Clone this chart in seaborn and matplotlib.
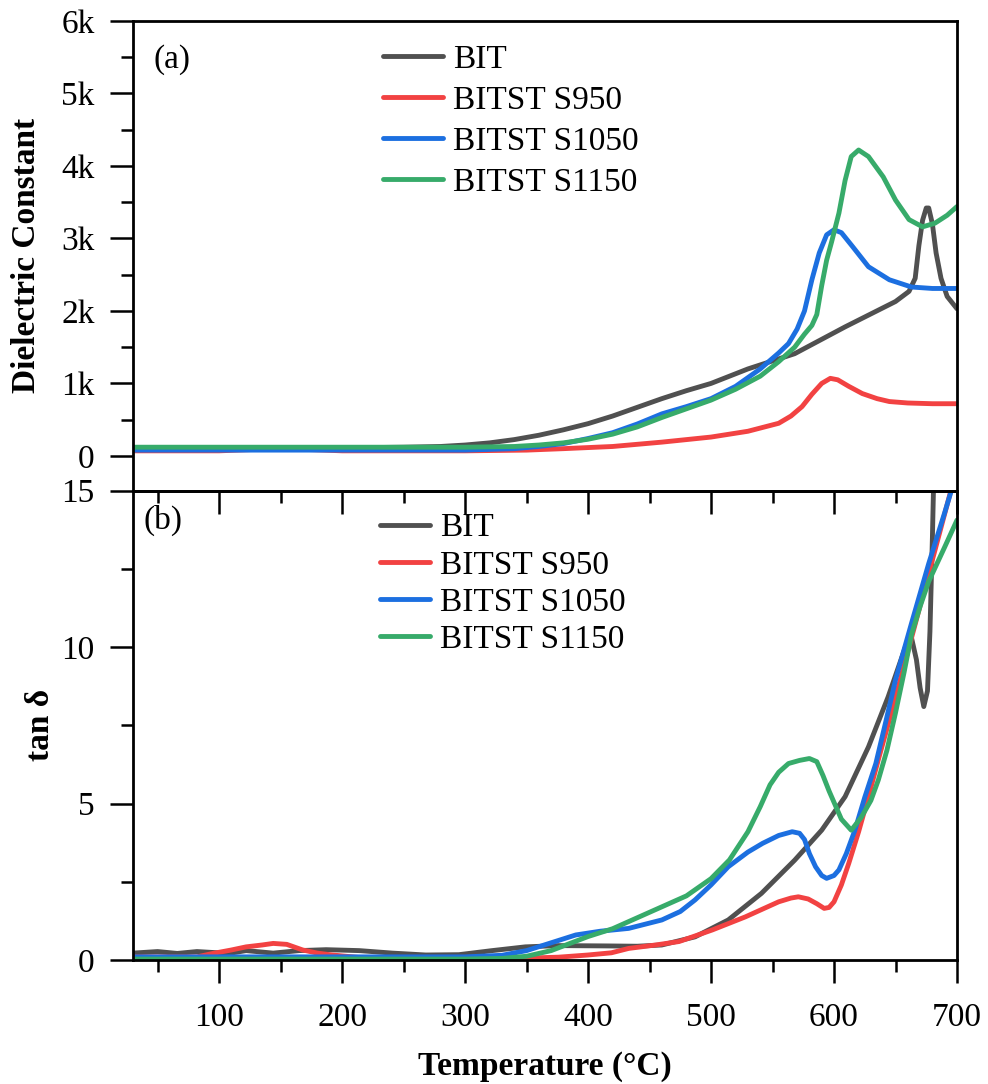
import numpy as np
import pandas as pd
import matplotlib
matplotlib.use("Agg")
import matplotlib.pyplot as plt
import seaborn as sns
from matplotlib.ticker import MultipleLocator, FuncFormatter

# ---------------- data ----------------
labels = ["BIT", "BITST S950", "BITST S1050", "BITST S1150"]
colors = ["#505050", "#f24242", "#1c6fe0", "#37ab6a"]

# (a) dielectric constant
bit_T_eps = [30, 60, 100, 150, 200, 250, 280, 300, 320, 340, 360, 380, 400, 420, 440, 460, 480, 500,
             530, 568, 609, 650, 661, 666, 669, 672, 675, 677, 680, 683, 687, 692, 700]
bit_eps = [110, 110, 110, 110, 110, 120, 130, 150, 180, 225, 285, 360, 445, 550, 670, 790, 900, 1000,
           1200, 1410, 1780, 2130, 2270, 2450, 2900, 3250, 3420, 3420, 3200, 2800, 2450, 2200, 2030]

s950_T_eps = [30, 100, 130, 150, 170, 200, 250, 300, 350, 380, 420, 460, 500, 530, 555, 565, 574, 582,
              590, 597, 603, 612, 623, 635, 645, 660, 680, 700]
s950_eps = [70, 70, 90, 110, 90, 70, 70, 70, 80, 100, 130, 190, 260, 340, 450, 550, 680, 850,
            1000, 1070, 1050, 960, 860, 790, 750, 730, 720, 720]

s1050_T_eps = [30, 100, 200, 300, 340, 360, 380, 400, 420, 440, 460, 480, 500, 520, 540, 555, 563, 570,
               576, 582, 588, 594, 600, 606, 615, 628, 645, 663, 680, 700]
s1050_eps = [80, 80, 80, 80, 100, 130, 170, 240, 320, 440, 580, 680, 790, 960, 1200, 1420, 1550, 1750,
             2000, 2430, 2800, 3050, 3120, 3080, 2890, 2610, 2430, 2330, 2310, 2310]

s1150_T_eps = [30, 100, 200, 300, 340, 360, 380, 400, 420, 440, 460, 480, 500, 520, 540, 555, 568, 576,
               582, 586, 590, 594, 598, 604, 609, 614, 620, 628, 640, 650, 661, 672, 682, 692, 700]
s1150_eps = [120, 120, 120, 120, 130, 150, 180, 230, 300, 400, 530, 650, 770, 920, 1100, 1300, 1500, 1680,
             1800, 1950, 2350, 2700, 2950, 3350, 3800, 4130, 4220, 4130, 3850, 3530, 3260, 3160, 3210, 3320, 3440]

# (b) tan delta
bit_T_tan = [30, 50, 66, 82, 108, 122, 144, 165, 187, 214, 241, 268, 295, 322, 349, 376, 415, 440, 460,
             487, 514, 541, 568, 590, 609, 628, 644, 658, 663, 667, 670, 673, 676, 678, 680, 682, 684]
bit_tan = [0.22, 0.27, 0.21, 0.27, 0.21, 0.30, 0.22, 0.30, 0.33, 0.30, 0.22, 0.16, 0.17, 0.30, 0.42, 0.46,
           0.45, 0.44, 0.48, 0.74, 1.28, 2.13, 3.19, 4.15, 5.22, 6.81, 8.41, 10.0, 10.3, 9.6, 8.7, 8.1,
           8.6, 10.5, 13.5, 17.0, 20.0]

s950_T_tan = [30, 82, 95, 110, 122, 135, 144, 155, 168, 180, 192, 214, 250, 300, 340, 376, 400, 419, 433,
              455, 474, 501, 528, 555, 565, 571, 579, 586, 592, 596, 600, 606, 612, 620, 628, 636, 645,
              661, 677, 695, 700]
s950_tan = [0.10, 0.10, 0.21, 0.32, 0.42, 0.48, 0.53, 0.50, 0.32, 0.22, 0.16, 0.08, 0.05, 0.05, 0.05, 0.09,
            0.16, 0.23, 0.37, 0.48, 0.59, 0.96, 1.38, 1.86, 1.98, 2.02, 1.95, 1.80, 1.65, 1.68, 1.86, 2.4,
            3.09, 4.1, 5.22, 6.4, 7.67, 10.0, 12.35, 15.0, 15.8]

s1050_T_tan = [30, 100, 200, 300, 330, 350, 370, 390, 410, 433, 460, 475, 487, 500, 514, 530, 542, 555,
               566, 572, 576, 580, 585, 590, 594, 600, 604, 610, 617, 625, 634, 642, 650, 663, 677, 690, 700]
s1050_tan = [0.10, 0.10, 0.10, 0.10, 0.15, 0.30, 0.55, 0.80, 0.92, 1.01, 1.28, 1.55, 1.92, 2.4, 2.98, 3.45,
             3.73, 3.98, 4.1, 4.05, 3.85, 3.4, 2.98, 2.7, 2.61, 2.7, 2.88, 3.4, 4.15, 5.2, 6.28, 7.6, 8.95,
             10.76, 12.67, 14.3, 15.6]

s1150_T_tan = [30, 100, 200, 300, 330, 350, 370, 380, 400, 420, 440, 460, 480, 500, 515, 530, 540, 548,
               555, 563, 572, 580, 586, 591, 596, 606, 614, 622, 630, 636, 643, 650, 657, 663, 670, 677,
               690, 700]
s1150_tan = [0.03, 0.03, 0.03, 0.03, 0.05, 0.12, 0.30, 0.45, 0.75, 1.0, 1.35, 1.7, 2.05, 2.6, 3.2, 4.1,
             4.9, 5.6, 6.0, 6.28, 6.38, 6.44, 6.34, 5.9, 5.4, 4.5, 4.15, 4.55, 5.1, 5.75, 6.7, 7.9, 9.2,
             10.4, 11.3, 12.1, 13.2, 14.06]

# ---------------- style ----------------
sns.set_style("ticks")
plt.rcParams["font.family"] = ["Liberation Serif", "DejaVu Serif"]
plt.rcParams.update({
    "axes.linewidth": 2.0,
    "text.color": "black",
    "axes.labelcolor": "black",
    "xtick.color": "black",
    "ytick.color": "black",
    "axes.edgecolor": "black",
})

W, H = 988, 1084
fig = plt.figure(figsize=(W / 100, H / 100), dpi=100)
L, R = 133 / W, 957 / W
y_top, y_mid, y_bot = 21, 490.7, 960
ax1 = fig.add_axes([L, 1 - y_mid / H, R - L, (y_mid - y_top) / H])
ax2 = fig.add_axes([L, 1 - y_bot / H, R - L, (y_bot - y_mid) / H])
ax1.set_zorder(3)
ax1.patch.set_alpha(0)

LW = 3.5
FS = 24
eps_sets = [(bit_T_eps, bit_eps), (s950_T_eps, s950_eps), (s1050_T_eps, s1050_eps), (s1150_T_eps, s1150_eps)]
tan_sets = [(bit_T_tan, bit_tan), (s950_T_tan, s950_tan), (s1050_T_tan, s1050_tan), (s1150_T_tan, s1150_tan)]

for (T, v), lab, c in zip(eps_sets, labels, colors):
    df = pd.DataFrame({"T": T, "v": v})
    sns.lineplot(data=df, x="T", y="v", ax=ax1, color=c, lw=LW, label=lab, estimator=None)
for (T, v), lab, c in zip(tan_sets, labels, colors):
    df = pd.DataFrame({"T": T, "v": v})
    sns.lineplot(data=df, x="T", y="v", ax=ax2, color=c, lw=LW, label=lab, estimator=None)

for ax in (ax1, ax2):
    ax.set_xlim(30, 700)
    ax.xaxis.set_major_locator(MultipleLocator(100))
    ax.xaxis.set_minor_locator(MultipleLocator(50))
    ax.tick_params(axis="both", which="major", direction="out", length=16.5, width=1.8,
                   labelsize=FS, pad=11)
    ax.tick_params(axis="x", which="major", pad=14)
    ax.tick_params(axis="both", which="minor", direction="out", length=8.5, width=1.8)
    ax.tick_params(top=False, right=False, which="both")
    for s in ax.spines.values():
        s.set_linewidth(2.0)
        s.set_color("black")

ax1.set_ylim(-480, 6000)
ax1.yaxis.set_major_locator(MultipleLocator(1000))
ax1.yaxis.set_minor_locator(MultipleLocator(500))
ax1.yaxis.set_major_formatter(FuncFormatter(lambda v, p: "0" if abs(v) < 1 else f"{int(round(v / 1000))}k"))
ax1.tick_params(axis="x", labelbottom=False)
ax1.set_xlabel("")
ax1.set_ylabel("Dielectric Constant", fontsize=FS, fontweight="bold", labelpad=14)

ax2.set_ylim(0, 15)
ax2.yaxis.set_major_locator(MultipleLocator(5))
ax2.yaxis.set_minor_locator(MultipleLocator(2.5))
ax2.set_xlabel("Temperature (\u00b0C)", fontsize=FS, fontweight="bold", labelpad=13)
ax2.set_ylabel("tan \u03b4", fontsize=FS, fontweight="bold", labelpad=4)

ax1.text(0.025, 0.917, "(a)", transform=ax1.transAxes, fontsize=FS, va="center", ha="left")
ax2.text(0.013, 0.9375, "(b)", transform=ax2.transAxes, fontsize=FS, va="center", ha="left")

leg_kw = dict(loc="upper left", frameon=False, fontsize=FS, borderaxespad=0, borderpad=0,
              handletextpad=0.3)
ax1.legend(bbox_to_anchor=((383 - 133) / 824, (y_mid - 44) / (y_mid - y_top)),
           handlelength=1.8, labelspacing=0.32, **leg_kw)
ax2.legend(bbox_to_anchor=((380 - 133) / 824, (y_bot - 513) / (y_bot - y_mid)),
           handlelength=1.5, labelspacing=0.2, **leg_kw)

fig.savefig("out.png", dpi=100)
